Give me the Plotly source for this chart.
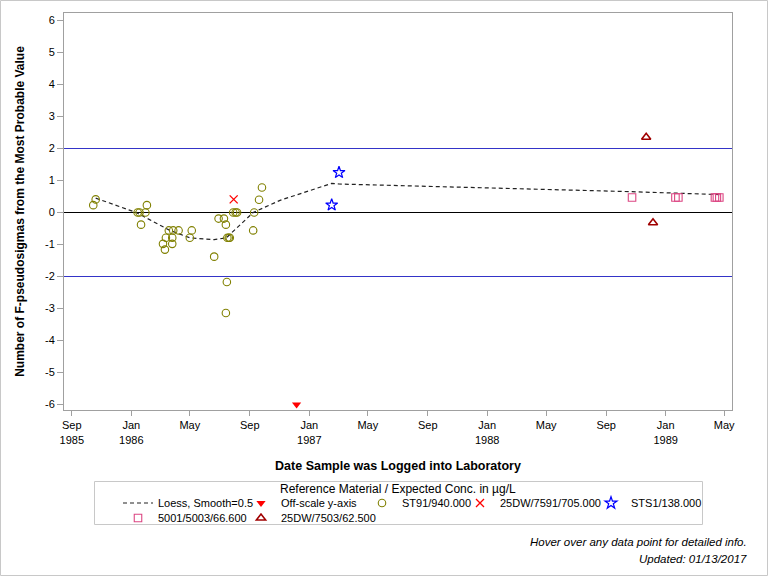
import plotly.graph_objects as go

# ---------------- data ----------------
loess_dates = ["1985-10-20", "1986-01-11", "1986-03-21", "1986-05-01", "1986-06-20",
               "1986-07-15", "1986-09-08", "1986-11-02", "1987-02-16", "1987-03-03",
               "1988-10-24", "1989-01-24", "1989-04-21"]
loess_vals = [0.45, 0.0, -0.56, -0.79, -0.85, -0.79, 0.0, 0.38, 0.91, 0.89, 0.65, 0.60, 0.56]

offscale_dates = ["1986-12-06"]
offscale_vals = [-6.0]

st91_dates = ["1985-10-15", "1985-10-20", "1986-01-14", "1986-01-18", "1986-01-30",
              "1986-02-02", "1986-01-21", "1986-03-19", "1986-03-28", "1986-04-08",
              "1986-03-13", "1986-03-26", "1986-03-07", "1986-03-26", "1986-03-11",
              "1986-05-05", "1986-05-01", "1986-06-29", "1986-07-10", "1986-07-14",
              "1986-06-20", "1986-07-17", "1986-07-20", "1986-07-22", "1986-07-16",
              "1986-07-14", "1986-07-29", "1986-08-03", "1986-08-06", "1986-09-08",
              "1986-09-10", "1986-09-20", "1986-09-26"]
st91_vals = [0.23, 0.41, 0.0, 0.0, 0.0,
             0.23, -0.38, -0.56, -0.56, -0.56,
             -0.79, -0.79, -0.98, -0.98, -1.16,
             -0.56, -0.79, -0.19, -0.19, -0.38,
             -1.38, -0.79, -0.79, -0.79, -2.17,
             -3.14, 0.0, 0.0, 0.0, -0.56,
             0.0, 0.40, 0.78]

dw7591_dates = ["1986-07-30"]
dw7591_vals = [0.41]

sts1_dates = ["1987-02-16", "1987-03-03"]
sts1_vals = [0.235, 1.25]

s5001_dates = ["1988-10-24", "1989-01-21", "1989-01-27", "1989-04-12", "1989-04-16", "1989-04-21"]
s5001_vals = [0.47, 0.47, 0.47, 0.47, 0.47, 0.47]

dw7503_dates = ["1988-11-22", "1988-12-06"]
dw7503_vals = [2.35, -0.32]

ref_levels = [2, 0, -2]
ref_colors = ["#3434c8", "#000000", "#3434c8"]

tick_dates = ["1985-09-01", "1986-01-01", "1986-05-01", "1986-09-01", "1987-01-01",
              "1987-05-01", "1987-09-01", "1988-01-01", "1988-05-01", "1988-09-01",
              "1989-01-01", "1989-05-01"]
tick_labels = ["Sep<br>1985", "Jan<br>1986", "May", "Sep", "Jan<br>1987", "May", "Sep",
               "Jan<br>1988", "May", "Sep", "Jan<br>1989", "May"]
y_ticks = list(range(-6, 7))
y_labels = [str(v) for v in y_ticks]
y_range = [-6.171875, 6.234375]

# ---------------- layout helpers ----------------
W, H = 768, 576
ML, MR, MT, MB = 64, 36, 13, 166
PW, PH = W - ML - MR, H - MT - MB


def pxx(x):
    return (x - ML) / PW


def pxy(y):
    return (H - MB - y) / PH


FONT = "Arial, Liberation Sans, sans-serif"
FRAME = "#a0a0a0"

fig = go.Figure()

fig.add_trace(go.Scatter(
    x=loess_dates, y=loess_vals, mode="lines", name="Loess, Smooth=0.5",
    line=dict(color="#222222", width=1.2, dash="4px,3px"),
    legend="legend", legendwidth=78))
fig.add_trace(go.Scatter(
    x=offscale_dates, y=offscale_vals, mode="markers", name="Off-scale y-axis",
    marker=dict(symbol="triangle-down", size=8, color="#ff0000", line=dict(width=0)),
    legend="legend", legendwidth=76))
fig.add_trace(go.Scatter(
    x=st91_dates, y=st91_vals, mode="markers", name="ST91/940.000",
    marker=dict(symbol="circle-open", size=7.5, color="#808000", line=dict(width=1.1, color="#808000")),
    legend="legend", legendwidth=53))
fig.add_trace(go.Scatter(
    x=dw7591_dates, y=dw7591_vals, mode="markers", name="25DW/7591/705.000",
    marker=dict(symbol="x-thin", size=8, color="#ff0000", line=dict(width=1.3, color="#ff0000")),
    legend="legend", legendwidth=86))
fig.add_trace(go.Scatter(
    x=sts1_dates, y=sts1_vals, mode="markers", name="STS1/138.000",
    marker=dict(symbol="star-open", size=9, color="#0000ff", line=dict(width=1.2, color="#0000ff")),
    legend="legend", legendwidth=95))
fig.add_trace(go.Scatter(
    x=s5001_dates, y=s5001_vals, mode="markers", name="5001/5003/66.600",
    marker=dict(symbol="square-open", size=7.5, color="#dc4682", line=dict(width=1.1, color="#dc4682")),
    legend="legend2", legendwidth=78))
fig.add_trace(go.Scatter(
    x=dw7503_dates, y=dw7503_vals, mode="markers", name="25DW/7503/62.500",
    marker=dict(symbol="triangle-up-open", size=8, color="#a00000", line=dict(width=1.6, color="#a00000")),
    legend="legend2", legendwidth=115))

shapes = []
for lvl, col in zip(ref_levels, ref_colors):
    shapes.append(dict(type="line", xref="paper", x0=0, x1=1, yref="y", y0=lvl, y1=lvl,
                       line=dict(color=col, width=1), layer="below"))
# legend box
shapes.append(dict(type="rect", xref="paper", yref="paper",
                   x0=pxx(94.5), x1=pxx(702.5), y0=pxy(524.5), y1=pxy(481.5),
                   line=dict(color="#c8c8c8", width=1), fillcolor="rgba(0,0,0,0)"))
# outer border
shapes.append(dict(type="rect", xref="paper", yref="paper",
                   x0=pxx(0.5), x1=pxx(767.5), y0=pxy(575.5), y1=pxy(0.5),
                   line=dict(color="#c8c8c8", width=1), fillcolor="rgba(0,0,0,0)"))

annotations = [
    dict(text="Reference Material / Expected Conc. in µg/L", xref="paper", yref="paper",
         x=pxx(398), y=pxy(489), xanchor="center", yanchor="middle", showarrow=False,
         font=dict(family=FONT, size=12, color="#000000")),
    dict(text="<i>Hover over any data point for detailed info.</i>", xref="paper", yref="paper",
         x=pxx(749), y=pxy(542), xanchor="right", yanchor="middle", showarrow=False,
         font=dict(family=FONT, size=11.5, color="#000000")),
    dict(text="<i>Updated: 01/13/2017</i>", xref="paper", yref="paper",
         x=pxx(749), y=pxy(559), xanchor="right", yanchor="middle", showarrow=False,
         font=dict(family=FONT, size=11.5, color="#000000")),
]

axis_common = dict(showgrid=False, zeroline=False, showline=True, linecolor=FRAME, linewidth=1,
                   ticks="outside", tickcolor=FRAME,
                   tickfont=dict(family=FONT, size=11, color="#000000"))

fig.update_layout(
    width=W, height=H,
    margin=dict(l=ML, r=MR, t=MT, b=MB, autoexpand=False),
    paper_bgcolor="#ffffff", plot_bgcolor="#ffffff",
    font=dict(family=FONT, size=11, color="#000000"),
    xaxis=dict(**axis_common, range=["1985-08-16", "1989-05-17"], type="date",
               tickvals=tick_dates, ticktext=tick_labels, ticklen=5, mirror=True,
               title=dict(text="<b>Date Sample was Logged into Laboratory</b>",
                          font=dict(family=FONT, size=12.5, color="#000000"), standoff=16)),
    yaxis=dict(**axis_common, range=y_range, tickvals=y_ticks, ticktext=y_labels,
               ticklen=6, mirror=True,
               title=dict(text="<b>Number of F-pseudosigmas from the Most Probable Value</b>",
                          font=dict(family=FONT, size=12, color="#000000"), standoff=17)),
    yaxis2=dict(**axis_common, range=y_range, tickvals=y_ticks, ticktext=y_labels,
                ticklen=6, overlaying="y", side="right", anchor="x"),
    legend=dict(orientation="h", xref="paper", yref="paper", x=pxx(118), y=pxy(503),
                xanchor="left", yanchor="middle", borderwidth=0, bgcolor="rgba(0,0,0,0)",
                font=dict(family=FONT, size=11, color="#000000"), traceorder="normal"),
    legend2=dict(orientation="h", xref="paper", yref="paper", x=pxx(118), y=pxy(518),
                 xanchor="left", yanchor="middle", borderwidth=0, bgcolor="rgba(0,0,0,0)",
                 font=dict(family=FONT, size=11, color="#000000"), traceorder="normal"),
    shapes=shapes,
    annotations=annotations,
    showlegend=True,
)

fig.write_html("out.html", config={"displayModeBar": False},
               post_script="document.body.style.margin='0';")
